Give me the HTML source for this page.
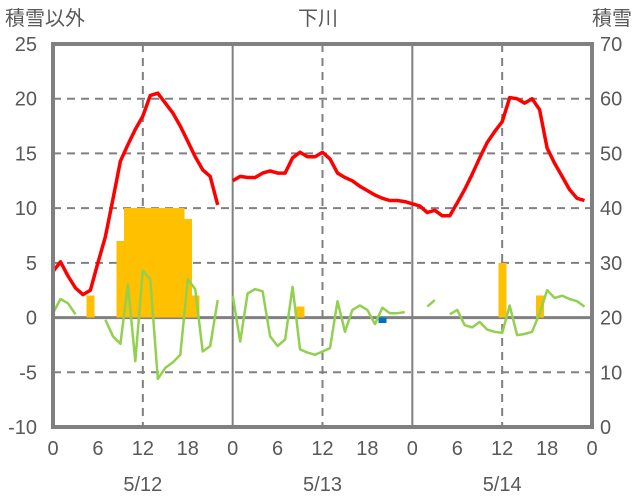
<!DOCTYPE html>
<html><head><meta charset="utf-8">
<style>
html,body{margin:0;padding:0;background:#fff;}
svg{display:block;}
text{font-family:"Liberation Sans","Noto Sans CJK JP",sans-serif;fill:#595959;font-size:20px;}
</style></head>
<body>
<svg id="chart" width="636" height="501" viewBox="0 0 636 501" xmlns="http://www.w3.org/2000/svg">
<text x="5" y="25">積雪以外</text>
<text x="318" y="25" text-anchor="middle">下川</text>
<text x="632" y="25" text-anchor="end">積雪</text>
<g id="grid"></g><g id="bars"></g><g id="lines"></g><g id="axes"></g>
</svg>
<script>
const leftTicks=[25,20,15,10,5,0,-5,-10];
const rightTicks=[70,60,50,40,30,20,10,0];
const hourTicks=["0","6","12","18","0","6","12","18","0","6","12","18","0"];
const dates=["5/12","5/13","5/14"];
const temp=[4.2,5.1,3.8,2.7,2.1,2.5,5.0,7.4,10.8,14.3,15.8,17.2,18.4,20.3,20.5,19.6,18.7,17.5,16.1,14.7,13.5,12.9,10.3,null,
12.5,12.9,12.8,12.8,13.2,13.4,13.2,13.2,14.6,15.1,14.7,14.7,15.1,14.5,13.2,12.8,12.5,12.0,11.6,11.2,10.9,10.7,10.7,10.6,
10.4,10.2,9.6,9.8,9.3,9.3,10.5,11.7,13.1,14.6,16.0,17.0,17.9,20.1,20.0,19.6,20.0,19.0,15.5,14.1,12.9,11.7,10.9,10.7];
const wind=[0.4,1.7,1.3,0.3,null,null,null,-0.2,-1.7,-2.4,3.0,-4.0,4.3,3.5,-5.6,-4.6,-4.1,-3.4,3.5,2.6,-3.1,-2.6,1.6,null,
2.0,-2.2,2.2,2.6,2.4,-1.7,-2.6,-2.0,2.8,-2.9,-3.2,-3.4,-3.1,-2.8,1.5,-1.3,0.7,1.1,0.7,-0.6,0.9,0.4,0.4,0.5,
null,null,1.0,1.6,null,0.3,0.7,-0.7,-0.9,-0.4,-1.1,-1.3,-1.4,1.1,-1.6,-1.5,-1.3,0.4,2.5,1.8,2.0,1.7,1.5,1.0];
const precipHours=[5,9,10,11,12,13,14,15,16,17,18,19,33,60,65];
const precipVals=[2,7,10,10,10,10,10,10,10,10,9,2,1,5,2];
const blueHours=[44];
const blueVals=[-0.5];

const X0=53,X1=592,Y0=44,Y1=427;
const xs=h=>X0+(X1-X0)*h/72;
const ys=v=>Y0+(25-v)*(Y1-Y0)/35;
const yr=v=>Y0+(70-v)*(Y1-Y0)/70;
const NS="http://www.w3.org/2000/svg";
function mk(tag,attrs,parent){const e=document.createElementNS(NS,tag);for(const k in attrs)e.setAttribute(k,attrs[k]);document.getElementById(parent).appendChild(e);return e;}

leftTicks.forEach(v=>{
  if(v===25||v===-10)return;
  const l=mk('line',{x1:X0,x2:X1,y1:ys(v),y2:ys(v),stroke:'#808080','stroke-width':v===0?3:2,'stroke-dasharray':v===0?'none':'8,6'},'grid');
  
  
});
[12,36,60].forEach(h=>{
  const l=mk('line',{x1:xs(h),x2:xs(h),y1:Y0,y2:Y1,stroke:'#808080','stroke-width':2,'stroke-dasharray':'8,6'},'grid');
  
  
});
[24,48].forEach(h=>{
  const l=mk('line',{x1:xs(h),x2:xs(h),y1:Y0,y2:Y1,stroke:'#808080','stroke-width':2},'grid');
  
  
});
precipHours.forEach((h,i)=>{
  const v=precipVals[i];
  const r=mk('rect',{x:xs(h)-3.75,y:ys(v),width:8,height:ys(0)-ys(v),fill:'#FFC000','shape-rendering':'crispEdges'},'bars');
  
  
});
blueHours.forEach((h,i)=>{
  const v=blueVals[i];
  const r=mk('rect',{x:xs(h)-3.75,y:ys(0),width:8,height:ys(v)-ys(0),fill:'#0070C0','shape-rendering':'crispEdges'},'bars');
  
  
});
function drawLine(arr,color,w,name){
  let d='',pen=false;
  arr.forEach((v,h)=>{
    if(v===null){pen=false;return;}
    d+=(pen?'L':'M')+xs(h).toFixed(1)+','+ys(v).toFixed(1);pen=true;
  });
  const p=mk('path',{d:d,fill:'none',stroke:color,'stroke-width':w,'stroke-linejoin':'round'},'lines');
  
  
}
drawLine(wind,'#92D050',2.5,'wind-line');
drawLine(temp,'#FF0000',3.5,'temperature-line');

const f=mk('rect',{x:X0,y:Y0,width:X1-X0,height:Y1-Y0,fill:'none',stroke:'#808080','stroke-width':4},'axes');


leftTicks.forEach(v=>{
  const t=mk('text',{x:37,y:ys(v)+7,'text-anchor':'end'},'axes');t.textContent=v;
  
  
});
rightTicks.forEach(v=>{
  const t=mk('text',{x:600,y:yr(v)+7},'axes');t.textContent=v;
  
  
});
hourTicks.forEach((s,i)=>{
  const t=mk('text',{x:xs(i*6),y:455,'text-anchor':'middle'},'axes');t.textContent=s;
  
  
});
dates.forEach((s,i)=>{
  const t=mk('text',{x:xs(i*24+12),y:491,'text-anchor':'middle'},'axes');t.textContent=s;
  
  
});
</script>
</body></html>
